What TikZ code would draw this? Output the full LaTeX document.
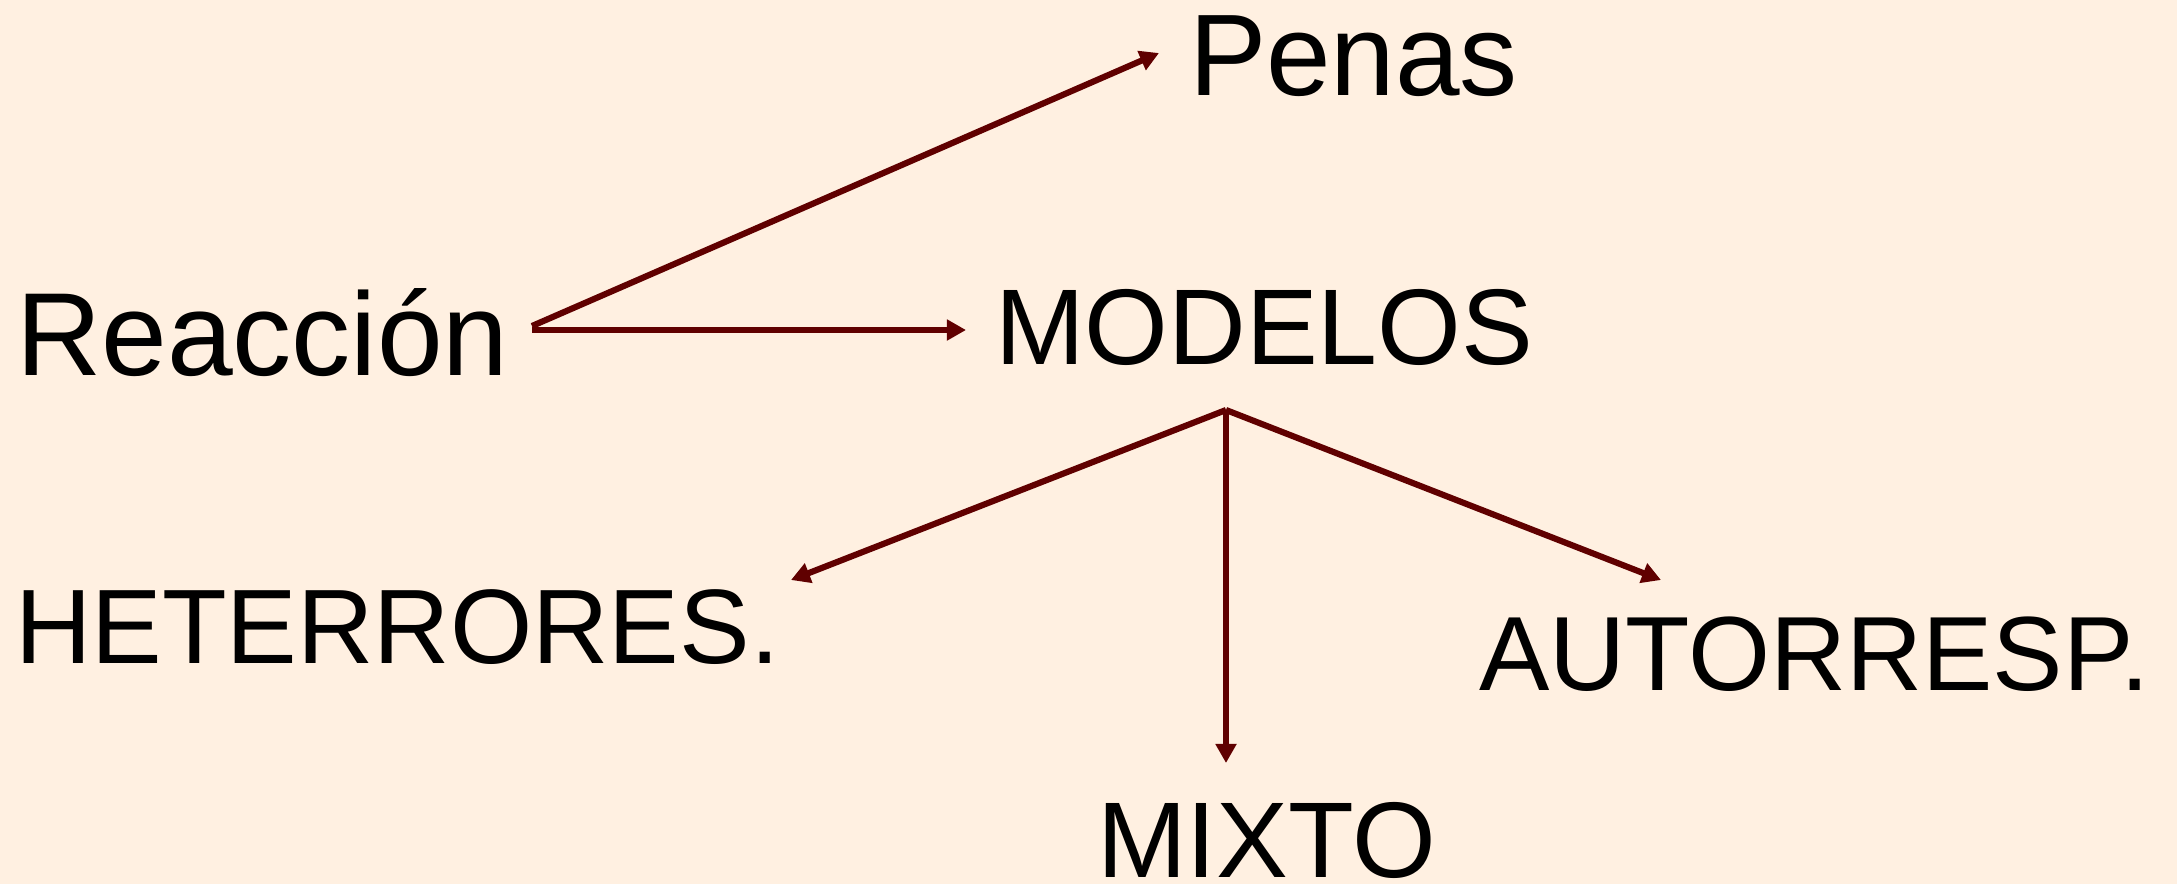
\documentclass[tikz,border=0pt]{standalone}
\usepackage{fontspec}
\setmainfont{Liberation Sans}
\usetikzlibrary{arrows.meta}
\definecolor{bg}{HTML}{FFF0E1}
\definecolor{ln}{HTML}{600000}
\begin{document}
\begin{tikzpicture}[x=0.01cm,y=-0.01cm,
  lbl/.style={anchor=base west, inner sep=0pt, outer sep=0pt, text depth=0pt, text=black},
  big/.style={font=\fontsize{33.6}{40}\selectfont},
  mid/.style={font=\fontsize{30.6}{36}\selectfont},
  conn/.style={draw=ln, line width=1.75pt, -{Triangle[length=0.19cm,width=0.2cm]}}]
\fill[bg] (0,0) rectangle (2177,884);
\useasboundingbox (0,0) rectangle (2177,884);
% labels
\node[lbl, big] (reac) at (16,375) {Reacción};
\node[lbl, font=\fontsize{33.0}{40}\selectfont] (penas) at (1189,95) {Penas};
\node[lbl, mid] (modelos) at (995,364) {MODELOS};
\node[lbl, font=\fontsize{30.1}{36}\selectfont] (hetero) at (15,663) {HETERRORES.};
\node[lbl, font=\fontsize{30.0}{36}\selectfont] (auto) at (1479,690) {AUTORRESP.};
\node[lbl, mid] (mixto) at (1097,877) {MIXTO};
% connector end points
\coordinate (reacA) at (532,326);
\coordinate (reacB) at (532,330);
\coordinate (penasIn) at (1159,53);
\coordinate (modelosIn) at (966,330);
\coordinate (hub) at (1226,410);
\coordinate (heteroIn) at (791,580);
\coordinate (mixtoIn) at (1226,763);
\coordinate (autoIn) at (1661,580);
% connectors
\draw[conn] (reacA) -- (penasIn);
\draw[conn] (reacB) -- (modelosIn);
\draw[conn] (hub) -- (heteroIn);
\draw[conn] (hub) -- (mixtoIn);
\draw[conn] (hub) -- (autoIn);
\end{tikzpicture}
\end{document}
